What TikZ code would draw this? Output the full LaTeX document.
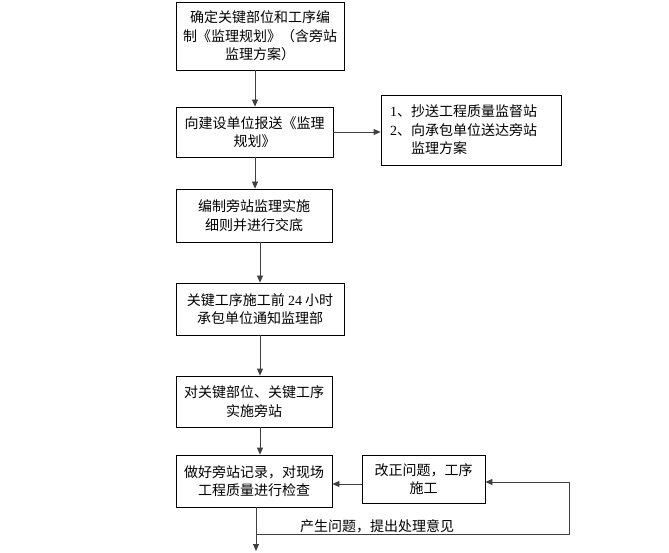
\documentclass[tikz,border=0pt]{standalone}
\usepackage{fontspec}
\setmainfont{Liberation Serif}
\newfontfamily\cjk{Noto Sans CJK SC}
\usetikzlibrary{arrows.meta}
\begin{document}
\begin{tikzpicture}[x=1pt,y=-1pt,
  box/.style={draw,line width=0.8pt,inner sep=0pt,align=center,font=\cjk\fontsize{14}{18.5}\selectfont},
  arr/.style={draw=black!75,line width=0.8pt,-{Triangle[length=7pt,width=6pt]}},
  ln/.style={draw=black!75,line width=0.8pt},
  lbl/.style={font=\cjk\fontsize{14}{18.5}\selectfont,inner sep=0pt}]
\useasboundingbox (0,0) rectangle (669,553);
\node[box,minimum width=168pt,minimum height=68pt] (b1) at (260,36) {确定关键部位和工序编\\制《监理规划》（含旁站\\监理方案）};
\node[box,minimum width=157pt,minimum height=50pt] (b2) at (254.5,132) {向建设单位报送《监理\\规划》};
\node[box,minimum width=180pt,minimum height=70pt,align=left,text width=162pt] (b3) at (471,130) {{\rmfamily 1}、抄送工程质量监督站\\{\rmfamily 2}、向承包单位送达旁站\\\phantom{{\rmfamily 2}、}监理方案};
\node[box,minimum width=156pt,minimum height=53pt] (b4) at (254,215.5) {编制旁站监理实施\\细则并进行交底};
\node[box,minimum width=168pt,minimum height=52pt] (b5) at (260,309) {关键工序施工前 {\rmfamily 24} 小时\\承包单位通知监理部};
\node[box,minimum width=156pt,minimum height=51pt] (b6) at (254,401.5) {对关键部位、关键工序\\实施旁站};
\node[box,minimum width=156pt,minimum height=52pt] (b7) at (254,481) {做好旁站记录，对现场\\工程质量进行检查};
\node[box,minimum width=123pt,minimum height=48pt] (b8) at (423.5,479) {改正问题，工序\\施工};
\coordinate (va) at (255,0);
\coordinate (vb) at (260,0);
\coordinate (vc) at (256,0);
\coordinate (hb) at (0,484);
\coordinate (hr) at (0,482);
\coordinate (c1) at (256,534);
\coordinate (c2) at (569,534);
\coordinate (c3) at (569,482);
\coordinate (cend) at (256,551);
\draw[arr] (b1.south -| va) -- (b2.north -| va);
\draw[arr] (b2.south -| va) -- (b4.north -| va);
\draw[arr] (b2.east) -- (b3.west |- b2.east);
\draw[arr] (b4.south -| vb) -- (b5.north -| vb);
\draw[arr] (b5.south -| vb) -- (b6.north -| vb);
\draw[arr] (b6.south -| vb) -- (b7.north -| vb);
\draw[arr] (b8.west |- hb) -- (b7.east |- hb);
\draw[arr] (b7.south -| vc) -- (cend);
\draw[ln] (c1) -- (c2) -- (c3);
\draw[arr] (c3) -- (b8.east |- c3);
\node[lbl] (t1) at (377,526) {产生问题，提出处理意见};
\end{tikzpicture}
\end{document}
